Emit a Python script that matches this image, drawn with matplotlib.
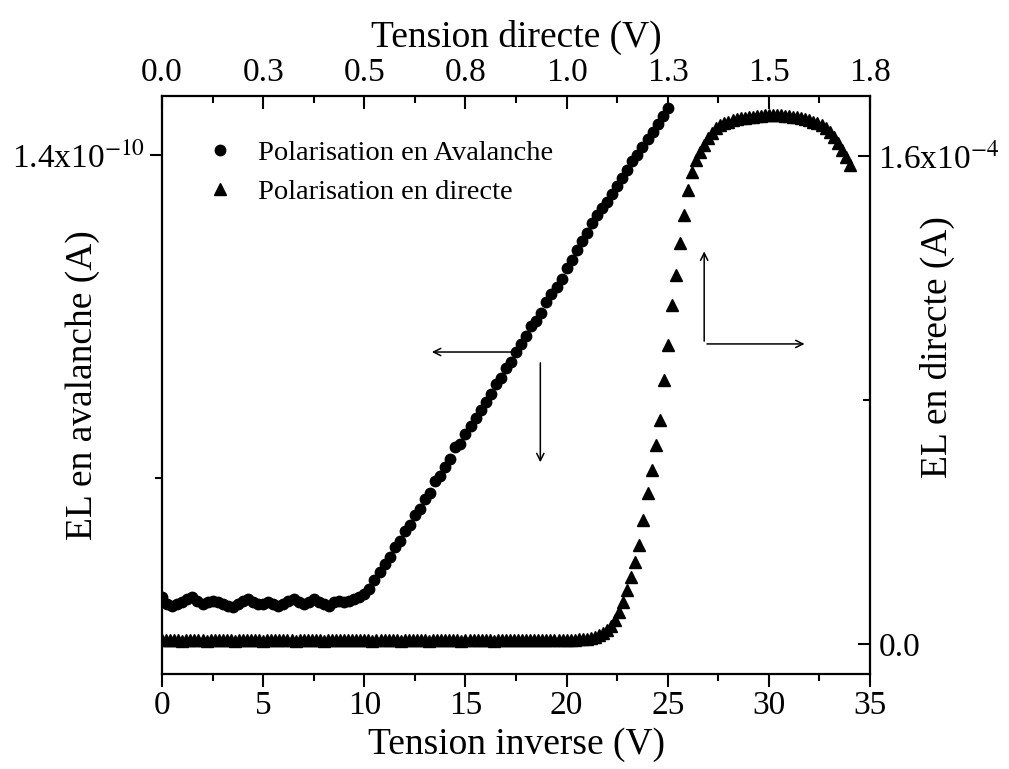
import matplotlib
matplotlib.use("Agg")
import matplotlib.pyplot as plt
from matplotlib.lines import Line2D
from matplotlib.ticker import FixedLocator, FixedFormatter

plt.rcParams["font.family"] = ["Liberation Serif", "DejaVu Serif"]
plt.rcParams["mathtext.fontset"] = "stix"

# Avalanche EL vs reverse voltage (V, units of 1e-10 A)
reverse_v = [
    0.0, 0.25, 0.5, 0.75, 1.0, 1.25, 1.5, 1.75, 2.0, 2.25, 2.5, 2.75,
    3.0, 3.25, 3.5, 3.75, 4.0, 4.25, 4.5, 4.75, 5.0, 5.25, 5.5, 5.75,
    6.0, 6.25, 6.5, 6.75, 7.0, 7.25, 7.5, 7.75, 8.0, 8.25, 8.5, 8.75,
    9.0, 9.25, 9.5, 9.75, 10.0, 10.25, 10.5, 10.75, 11.0, 11.25, 11.5, 11.75,
    12.0, 12.25, 12.5, 12.75, 13.0, 13.25, 13.5, 13.75, 14.0, 14.25, 14.5, 14.75,
    15.0, 15.25, 15.5, 15.75, 16.0, 16.25, 16.5, 16.75, 17.0, 17.25, 17.5, 17.75,
    18.0, 18.25, 18.5, 18.75, 19.0, 19.25, 19.5, 19.75, 20.0, 20.25, 20.5, 20.75,
    21.0, 21.25, 21.5, 21.75, 22.0, 22.25, 22.5, 22.75, 23.0, 23.25, 23.5, 23.75,
    24.0, 24.25, 24.5, 24.75, 25.0,
]
el_avalanche = [
    1.126, 1.122, 1.121, 1.122, 1.123, 1.125, 1.126, 1.124, 1.122, 1.123, 1.124, 1.123,
    1.122, 1.121, 1.120, 1.122, 1.124, 1.125, 1.123, 1.122, 1.122, 1.123, 1.122, 1.121,
    1.122, 1.124, 1.125, 1.123, 1.122, 1.123, 1.125, 1.123, 1.122, 1.121, 1.123, 1.124,
    1.123, 1.124, 1.125, 1.126, 1.128, 1.131, 1.137, 1.142, 1.147, 1.151, 1.157, 1.161,
    1.167, 1.171, 1.177, 1.181, 1.187, 1.191, 1.198, 1.201, 1.207, 1.212, 1.219, 1.221,
    1.227, 1.232, 1.237, 1.242, 1.247, 1.252, 1.258, 1.262, 1.268, 1.272, 1.278, 1.283,
    1.288, 1.294, 1.297, 1.302, 1.309, 1.314, 1.318, 1.323, 1.330, 1.335, 1.341, 1.347,
    1.352, 1.358, 1.363, 1.367, 1.371, 1.376, 1.381, 1.386, 1.391, 1.396, 1.400, 1.405,
    1.410, 1.414, 1.419, 1.424, 1.429,
]

# Forward EL vs forward voltage (V, units of 1e-4 A)
forward_v = [
    0.00, 0.01, 0.02, 0.03, 0.04, 0.05, 0.06, 0.07, 0.08, 0.09,
    0.10, 0.11, 0.12, 0.13, 0.14, 0.15, 0.16, 0.17, 0.18, 0.19,
    0.20, 0.21, 0.22, 0.23, 0.24, 0.25, 0.26, 0.27, 0.28, 0.29,
    0.30, 0.31, 0.32, 0.33, 0.34, 0.35, 0.36, 0.37, 0.38, 0.39,
    0.40, 0.41, 0.42, 0.43, 0.44, 0.45, 0.46, 0.47, 0.48, 0.49,
    0.50, 0.51, 0.52, 0.53, 0.54, 0.55, 0.56, 0.57, 0.58, 0.59,
    0.60, 0.61, 0.62, 0.63, 0.64, 0.65, 0.66, 0.67, 0.68, 0.69,
    0.70, 0.71, 0.72, 0.73, 0.74, 0.75, 0.76, 0.77, 0.78, 0.79,
    0.80, 0.81, 0.82, 0.83, 0.84, 0.85, 0.86, 0.87, 0.88, 0.89,
    0.90, 0.91, 0.92, 0.93, 0.94, 0.95, 0.96, 0.97, 0.98, 0.99,
    1.00, 1.01, 1.02, 1.03, 1.04,
    1.05, 1.06, 1.07, 1.08, 1.09, 1.10, 1.11, 1.12, 1.13, 1.14, 1.15, 1.16,
    1.17, 1.18, 1.19, 1.20, 1.21, 1.22, 1.23, 1.24, 1.25, 1.26, 1.27, 1.28,
    1.29, 1.30, 1.31, 1.32, 1.33, 1.34, 1.35, 1.36, 1.37, 1.38, 1.39, 1.40,
    1.41, 1.42, 1.43, 1.44, 1.45, 1.46, 1.47, 1.48, 1.49, 1.50, 1.51, 1.52,
    1.53, 1.54, 1.55, 1.56, 1.57, 1.58, 1.59, 1.60, 1.61, 1.62, 1.63, 1.64,
    1.65, 1.66, 1.67, 1.68, 1.69, 1.70,
]
el_forward = [
    0.012, 0.012, 0.013, 0.012, 0.012, 0.011, 0.012, 0.013, 0.012, 0.012,
    0.012, 0.011, 0.012, 0.012, 0.013, 0.012, 0.012, 0.012, 0.011, 0.012,
    0.012, 0.013, 0.012, 0.012, 0.012, 0.011, 0.012, 0.012, 0.013, 0.012,
    0.012, 0.012, 0.012, 0.011, 0.012, 0.012, 0.013, 0.012, 0.012, 0.012,
    0.011, 0.012, 0.012, 0.012, 0.013, 0.012, 0.012, 0.012, 0.012, 0.013,
    0.012, 0.012, 0.011, 0.012, 0.012, 0.013, 0.012, 0.012, 0.012, 0.011,
    0.012, 0.012, 0.013, 0.012, 0.012, 0.012, 0.011, 0.012, 0.012, 0.012,
    0.013, 0.012, 0.012, 0.012, 0.011, 0.012, 0.012, 0.013, 0.012, 0.012,
    0.012, 0.012, 0.011, 0.012, 0.012, 0.013, 0.012, 0.012, 0.012, 0.012,
    0.012, 0.013, 0.012, 0.012, 0.012, 0.013, 0.013, 0.013, 0.013, 0.014,
    0.013, 0.014, 0.014, 0.015, 0.015,
    0.016, 0.020, 0.023, 0.029, 0.036, 0.046, 0.059, 0.079, 0.105, 0.138, 0.177, 0.220,
    0.269, 0.324, 0.406, 0.495, 0.570, 0.652, 0.734, 0.865, 0.980, 1.111, 1.209, 1.314,
    1.406, 1.488, 1.547, 1.586, 1.612, 1.635, 1.658, 1.674, 1.691, 1.700, 1.707, 1.712,
    1.716, 1.719, 1.722, 1.724, 1.726, 1.728, 1.730, 1.731, 1.732, 1.733, 1.733, 1.732,
    1.732, 1.731, 1.730, 1.728, 1.726, 1.723, 1.720, 1.717, 1.712, 1.707, 1.700, 1.691,
    1.678, 1.661, 1.642, 1.619, 1.596, 1.569,
]

top_ticks = [0.0, 0.25, 0.5, 0.75, 1.0, 1.25, 1.5, 1.75]
top_labels = ["0.0", "0.3", "0.5", "0.8", "1.0", "1.3", "1.5", "1.8"]

FS = 24      # tick labels
FS_LAB = 27  # axis titles

fig = plt.figure(figsize=(10.09, 7.69), dpi=100)
pos = [0.1606, 0.1235, 0.7017, 0.7516]
ax = fig.add_axes(pos)
ax2 = fig.add_axes(pos, frameon=False)

ax.plot(reverse_v, el_avalanche, "o", color="black", ms=7.5, mec="black")
ax2.plot(forward_v, el_forward, "^", color="black", ms=8.5, mec="black")

# bottom / left axes
ax.set_xlim(0, 35)
ax.set_ylim(1.0786, 1.4365)
ax.xaxis.set_major_locator(FixedLocator([0, 5, 10, 15, 20, 25, 30, 35]))
ax.xaxis.set_minor_locator(FixedLocator([2.5, 7.5, 12.5, 17.5, 22.5, 27.5, 32.5]))
ax.yaxis.set_major_locator(FixedLocator([1.4]))
ax.yaxis.set_major_formatter(FixedFormatter([r"1.4x10$^{-10}$"]))
ax.yaxis.set_minor_locator(FixedLocator([1.2]))
ax.tick_params(axis="both", which="both", direction="out", labelsize=FS, width=1.5)
ax.tick_params(axis="both", which="major", length=9)
ax.tick_params(axis="both", which="minor", length=5)
ax.tick_params(axis="x", pad=3)
for s in ax.spines.values():
    s.set_linewidth(1.6)
ax.set_xlabel("Tension inverse (V)", fontsize=FS_LAB)
ax.xaxis.set_label_coords(0.5, -0.092)
ax.set_ylabel("EL en avalanche (A)", fontsize=FS_LAB)
ax.yaxis.set_label_coords(-0.087, 0.5)

# top / right axes
ax2.set_xlim(0, 1.75)
ax2.set_ylim(-0.0983, 1.7955)
ax2.xaxis.tick_top()
ax2.xaxis.set_label_position("top")
ax2.yaxis.tick_right()
ax2.yaxis.set_label_position("right")
ax2.xaxis.set_major_locator(FixedLocator(top_ticks))
ax2.xaxis.set_major_formatter(FixedFormatter(top_labels))
ax2.xaxis.set_minor_locator(FixedLocator([0.125, 0.375, 0.625, 0.875, 1.125, 1.375, 1.625]))
ax2.yaxis.set_major_locator(FixedLocator([0.0, 1.6]))
ax2.yaxis.set_major_formatter(FixedFormatter(["0.0", r"1.6x10$^{-4}$"]))
ax2.yaxis.set_minor_locator(FixedLocator([0.8]))
ax2.tick_params(axis="both", which="both", direction="in", labelsize=FS, width=1.5)
ax2.tick_params(axis="both", which="major", length=9)
ax2.tick_params(axis="both", which="minor", length=5)
ax2.tick_params(axis="x", pad=6)
ax2.tick_params(axis="y", pad=6)
ax2.set_xlabel("Tension directe (V)", fontsize=FS_LAB)
ax2.xaxis.set_label_coords(0.5, 1.085)
ax2.set_ylabel("EL en directe (A)", fontsize=FS_LAB)
ax2.yaxis.set_label_coords(1.07, 0.566)

# arrows showing which axis belongs to which curve
arrow = dict(arrowstyle="->", lw=1.1, color="black", mutation_scale=13)
ax.annotate("", xy=(13.2, 1.278), xytext=(17.8, 1.278), arrowprops=arrow)
ax.annotate("", xy=(18.7, 1.208), xytext=(18.7, 1.273), arrowprops=arrow)
ax.annotate("", xy=(26.8, 1.342), xytext=(26.8, 1.283), arrowprops=arrow)
ax.annotate("", xy=(31.9, 1.283), xytext=(26.8, 1.283), arrowprops=arrow)

handles = [
    Line2D([], [], ls="none", marker="o", color="black", ms=7.5),
    Line2D([], [], ls="none", marker="^", color="black", ms=8.5),
]
ax.legend(handles, ["Polarisation en Avalanche", "Polarisation en directe"],
          loc="upper left", bbox_to_anchor=(0.045, 0.943), frameon=False,
          fontsize=20.5, handlelength=1.0, handletextpad=0.85, labelspacing=0.45,
          borderaxespad=0)

fig.savefig("out.png", dpi=100)
